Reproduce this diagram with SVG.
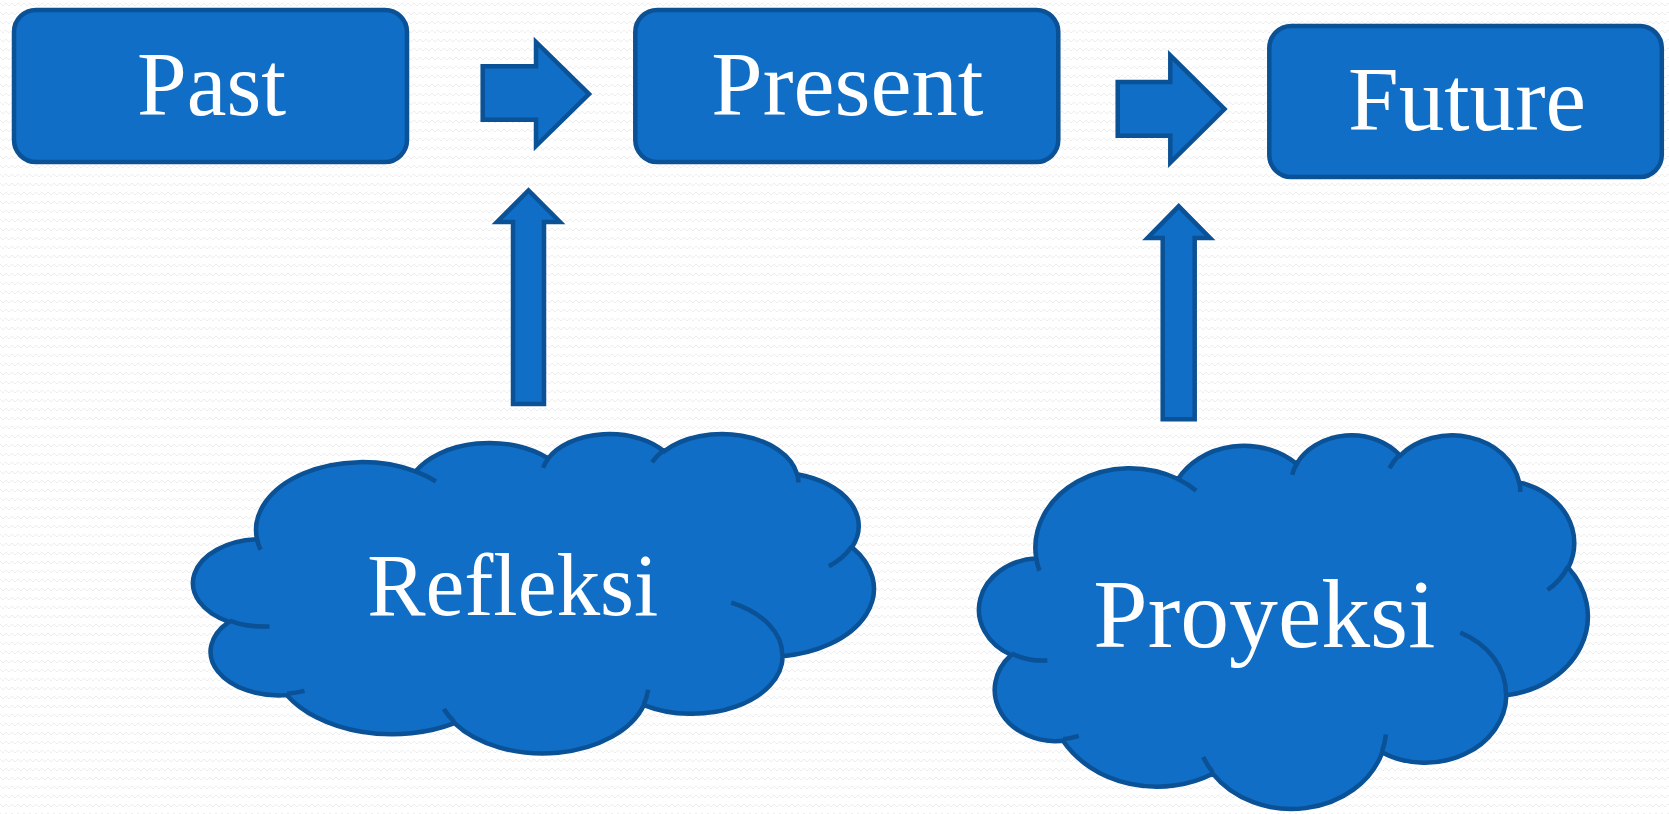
<svg xmlns="http://www.w3.org/2000/svg" xmlns:xlink="http://www.w3.org/1999/xlink" width="1669" height="814" viewBox="0 0 1669 814">
<style>
.shape{fill:#106EC6;stroke:#0A5196;stroke-width:4.5;stroke-linejoin:miter;stroke-miterlimit:10}
.deco{fill:none;stroke:#0A5196;stroke-width:4.5}
.lbl{font-family:"Liberation Serif","Times New Roman",serif;fill:#FFFFFF;text-anchor:middle}
</style>
<defs>
<pattern id="zig" width="6" height="9" patternUnits="userSpaceOnUse">
<polyline points="0,3 3,6 6,3" fill="none" stroke="#EEEEEE" stroke-width="1"/>
</pattern>
<path id="cloudBody" vector-effect="non-scaling-stroke" d="M3900,14370 A6753,9190 0 0 1 14005,5202 A5333,7267 0 0 1 22459,3433 A4365,5945 0 0 1 29836,2481 A4857,6595 0 0 1 38321,5577 A5333,7273 0 0 1 41821,15461 A6775,9220 0 0 1 37406,30202 A5785,7867 0 0 1 28558,36812 A6752,9215 0 0 1 16484,39267 A7720,10543 0 0 1 5808,35471 A4360,5918 0 0 1 2116,25550 A4345,5945 0 0 1 3900,14370 Z"/>
<path id="cloudDeco" vector-effect="non-scaling-stroke" d="M4693,26177 A4345,5945 0 0 1 2160,25380 M6928,34899 A4360,5918 0 0 1 5820,35280 M16478,39090 A6752,9215 0 0 1 15809,37347 M28827,34751 A6752,9215 0 0 1 28560,36660 M34129,22954 A5785,7867 0 0 1 37381,30090 M41798,15354 A5333,7273 0 0 1 40350,18030 M38324,5426 A4857,6595 0 0 1 38400,6690 M29078,3952 A4857,6595 0 0 1 29820,2340 M22141,4720 A4365,5945 0 0 1 22500,3331 M14000,5192 A6753,9190 0 0 1 15302,6544 M4127,15789 A6753,9190 0 0 1 3900,14371"/>
</defs>
<rect width="1669" height="814" fill="#FFFFFF"/>
<rect width="1669" height="814" fill="url(#zig)"/>

<g id="past">
<rect class="shape" x="14" y="10" width="393" height="152" rx="22" ry="22"/>
<text class="lbl" x="211.5" y="115" font-size="90" textLength="149" lengthAdjust="spacingAndGlyphs">Past</text>
</g>
<g id="present">
<rect class="shape" x="635.3" y="10" width="423" height="152" rx="22" ry="22"/>
<text class="lbl" x="847.3" y="115" font-size="91" textLength="272" lengthAdjust="spacingAndGlyphs">Present</text>
</g>
<g id="future">
<rect class="shape" x="1269.3" y="26" width="392.5" height="151" rx="22" ry="22"/>
<text class="lbl" x="1467" y="130" font-size="90" textLength="238" lengthAdjust="spacingAndGlyphs">Future</text>
</g>

<g id="refleksi">
<g transform="translate(195.8,433) scale(0.015691,0.00739)">
<use xlink:href="#cloudBody" class="shape"/>
<use xlink:href="#cloudDeco" class="deco"/>
</g>
<text class="lbl" x="512.8" y="614.5" font-size="89" textLength="291" lengthAdjust="spacingAndGlyphs">Refleksi</text>
</g>
<g id="proyeksi">
<g transform="translate(981.5,434.1) scale(0.01403,0.008647)">
<use xlink:href="#cloudBody" class="shape"/>
<use xlink:href="#cloudDeco" class="deco"/>
</g>
<text class="lbl" x="1264.3" y="646.5" font-size="98" textLength="342" lengthAdjust="spacingAndGlyphs">Proyeksi</text>
</g>

<g id="connectors">
<path class="shape" d="M482.7,66.3 H536 V42 L589,94 L536,146 V119.7 H482.7 Z"/>
<path class="shape" d="M1117.7,82 H1170.3 V55.5 L1224.5,109 L1170.3,162.5 V135.7 H1117.7 Z"/>
<path class="shape" d="M513,404 V222 H497 L528.5,190.5 L560,222 H544 V404 Z"/>
<path class="shape" d="M1162.7,419.3 V238 H1147.5 L1178.7,206.3 L1210,238 H1194.7 V419.3 Z"/>
</g>
</svg>
